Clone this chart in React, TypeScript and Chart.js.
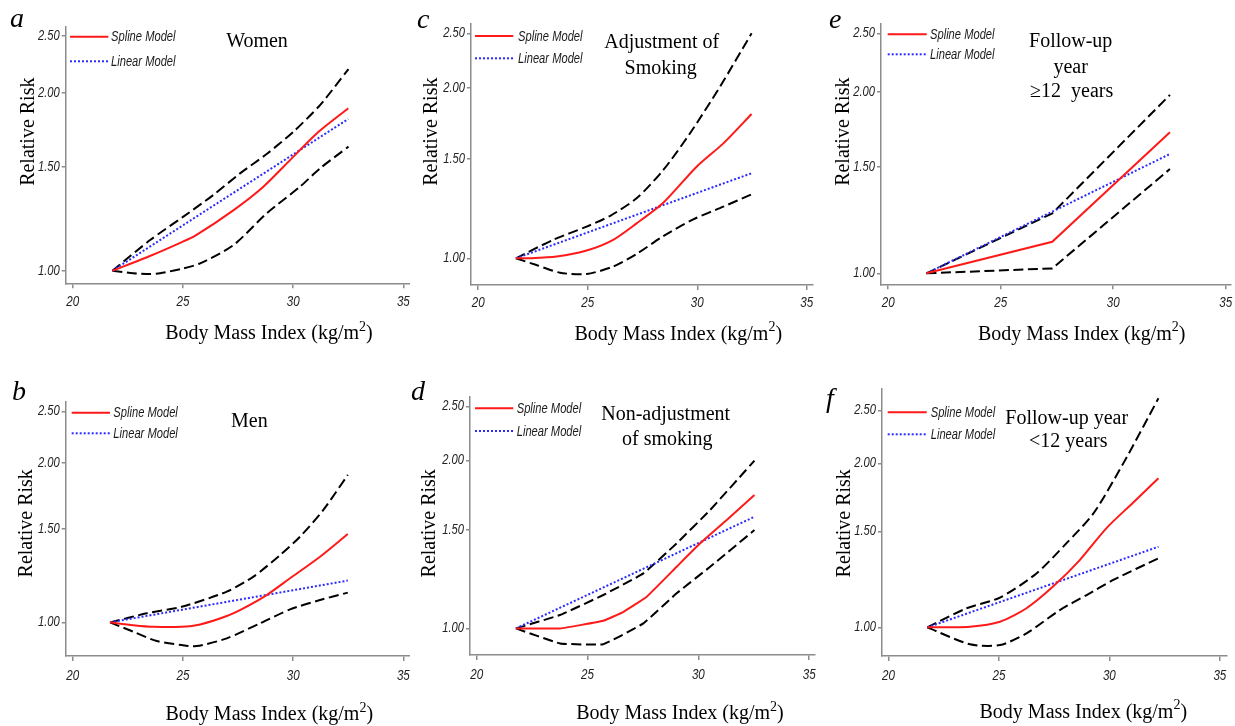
import { useEffect, useRef } from "react";
import { Chart, registerables } from "chart.js";

Chart.register(...registerables);

type Pt = [number, number];

// ---------- Tick values ----------
const xTickValues = [20, 25, 30, 35];
const yTickValues = [1.0, 1.5, 2.0, 2.5];
const seriesNames = ["Spline Model", "Linear Model", "Upper CI", "Lower CI"];
const xAxisTitle = "Body Mass Index (kg/m";
const yAxisTitle = "Relative Risk";

// ---------- Panel a: Women ----------
const aSpline: Pt[] = [[21.8, 1.0], [23.5, 1.059], [24.9, 1.116], [25.6, 1.149], [27.3, 1.267], [28.65, 1.388], [29.86, 1.54], [31.07, 1.709], [32.5, 1.885]];
const aLinear: Pt[] = [[21.8, 1.0], [32.5, 1.808]];
const aUpper: Pt[] = [[21.8, 1.0], [23.51, 1.127], [25.02, 1.235], [26.38, 1.344], [27.59, 1.462], [28.8, 1.577], [30.01, 1.72], [31.22, 1.909], [32.51, 2.197]];
const aLower: Pt[] = [[21.8, 1.0], [22.75, 0.99], [23.51, 0.987], [23.96, 0.99], [25.02, 1.009], [25.78, 1.029], [27.29, 1.105], [28.8, 1.251], [30.31, 1.388], [31.22, 1.491], [32.51, 1.623]];

// ---------- Panel b: Men ----------
const bSpline: Pt[] = [[21.69, 1.0], [22.75, 0.988], [23.66, 0.981], [24.94, 0.981], [25.78, 0.991], [26.99, 1.028], [27.74, 1.063], [28.8, 1.126], [29.86, 1.211], [31.22, 1.33], [32.48, 1.468]];
const bLinear: Pt[] = [[21.69, 1.0], [32.48, 1.199]];
const bUpper: Pt[] = [[21.69, 1.0], [23.36, 1.04], [24.94, 1.07], [26.99, 1.143], [28.2, 1.22], [29.41, 1.34], [30.31, 1.451], [31.37, 1.63], [32.48, 1.898]];
const bLower: Pt[] = [[21.69, 1.0], [22.75, 0.96], [23.81, 0.922], [24.94, 0.906], [25.62, 0.902], [26.99, 0.933], [28.5, 0.996], [29.86, 1.058], [31.22, 1.102], [32.48, 1.138]];

// ---------- Panel c: Adjustment of smoking ----------
const cSpline: Pt[] = [[21.72, 1.0], [22.35, 1.0], [23.58, 1.007], [24.95, 1.032], [26.16, 1.078], [27.23, 1.153], [28.45, 1.254], [29.97, 1.452], [31.19, 1.597], [32.48, 1.8]];
const cLinear: Pt[] = [[21.72, 1.0], [32.48, 1.414]];
const cUpper: Pt[] = [[21.72, 1.0], [23.42, 1.078], [24.95, 1.138], [26.01, 1.188], [27.23, 1.277], [28.45, 1.433], [29.67, 1.664], [31.04, 2.012], [32.48, 2.5]];
const cLower: Pt[] = [[21.72, 1.0], [22.66, 0.973], [23.73, 0.943], [24.95, 0.938], [26.16, 0.967], [27.23, 1.018], [28.45, 1.095], [29.82, 1.172], [31.19, 1.234], [32.48, 1.298]];

// ---------- Panel d: Non-adjustment of smoking ----------
const dSpline: Pt[] = [[21.77, 1.0], [23.76, 1.0], [25.71, 1.032], [26.62, 1.071], [27.67, 1.14], [29.02, 1.29], [30.08, 1.421], [31.28, 1.565], [32.53, 1.735]];
const dLinear: Pt[] = [[21.77, 1.0], [32.53, 1.586]];
const dUpper: Pt[] = [[21.77, 1.0], [23.76, 1.057], [25.71, 1.148], [27.52, 1.255], [29.02, 1.421], [30.53, 1.631], [32.53, 2.0]];
const dLower: Pt[] = [[21.77, 1.0], [23.76, 0.94], [25.71, 0.937], [27.52, 1.021], [29.02, 1.156], [30.53, 1.29], [32.53, 1.501]];

// ---------- Panel e: Follow-up >= 12 years ----------
const eSpline: Pt[] = [[21.7, 1.0], [27.29, 1.128], [32.52, 1.713]];
const eLinear: Pt[] = [[21.7, 1.0], [32.52, 1.577]];
const eUpper: Pt[] = [[21.7, 1.0], [27.29, 1.257], [32.52, 1.976]];
const eLower: Pt[] = [[21.7, 1.0], [27.29, 1.019], [32.52, 1.489]];

// ---------- Panel f: Follow-up < 12 years ----------
const fSpline: Pt[] = [[21.76, 1.0], [23.69, 1.003], [25.05, 1.024], [26.25, 1.084], [27.45, 1.188], [28.66, 1.329], [29.86, 1.52], [31.07, 1.694], [32.22, 1.878]];
const fLinear: Pt[] = [[21.76, 1.0], [32.22, 1.406]];
const fUpper: Pt[] = [[21.76, 1.0], [23.54, 1.084], [25.05, 1.134], [26.7, 1.256], [28.05, 1.426], [29.28, 1.619], [30.63, 2.0], [32.22, 2.633]];
const fLower: Pt[] = [[21.76, 1.0], [23.69, 0.931], [25.05, 0.928], [26.25, 0.975], [27.76, 1.076], [28.97, 1.146], [30.18, 1.222], [32.22, 1.339]];

// ---------- Layout (global page coordinates) ----------
type Panel = {
  letter: string;
  x0: number; y0: number; w: number; h: number;
  plot: { l: number; r: number; t: number; b: number };
  xr: [number, number]; yr: [number, number];
  spline: Pt[]; linear: Pt[]; upper: Pt[]; lower: Pt[];
  tension: number;
  titles: { text: string; x: number; y: number }[];
  letterPos: [number, number];
  yTitle: [number, number];
  xTitle: [number, number];
  xLabelGap: number;
  legend: { x1: number; x2: number; y1: number; y2: number; tx: number };
};

const panels: Panel[] = [
  {
    letter: "a", x0: 0, y0: 0, w: 410, h: 360,
    plot: { l: 65.7, r: 409.3, t: 27, b: 283.3 }, xr: [19.68, 35.27], yr: [0.952, 2.589],
    spline: aSpline, linear: aLinear, upper: aUpper, lower: aLower, tension: 0.25,
    titles: [{ text: "Women", x: 257, y: 42 }],
    letterPos: [10, 27], yTitle: [28.3, 131.7], xTitle: [269, 334], xLabelGap: 18,
    legend: { x1: 70, x2: 108.3, y1: 36.7, y2: 61.3, tx: 111 },
  },
  {
    letter: "c", x0: 410, y0: 0, w: 410, h: 360,
    plot: { l: 471, r: 812.7, t: 23.3, b: 285 }, xr: [19.67, 35.27], yr: [0.897, 2.604],
    spline: cSpline, linear: cLinear, upper: cUpper, lower: cLower, tension: 0.25,
    titles: [{ text: "Adjustment of", x: 661.7, y: 42.3 }, { text: "Smoking", x: 660.7, y: 68.3 }],
    letterPos: [417, 27.5], yTitle: [431.7, 131.7], xTitle: [678.3, 334.3], xLabelGap: 18,
    legend: { x1: 475, x2: 513.3, y1: 36, y2: 58.3, tx: 518 },
  },
  {
    letter: "e", x0: 820, y0: 0, w: 415, h: 360,
    plot: { l: 881, r: 1230.7, t: 23.3, b: 284.3 }, xr: [19.68, 35.22], yr: [0.959, 2.597],
    spline: eSpline, linear: eLinear, upper: eUpper, lower: eLower, tension: 0,
    titles: [{ text: "Follow-up", x: 1070.7, y: 41.7 }, { text: "year", x: 1070.7, y: 67.7 }, { text: "\u226512  years", x: 1071.7, y: 91.7 }],
    letterPos: [829, 27.5], yTitle: [843.3, 131.7], xTitle: [1081.7, 334.3], xLabelGap: 18,
    legend: { x1: 887.7, x2: 926.7, y1: 34.3, y2: 54.3, tx: 930 },
  },
  {
    letter: "b", x0: 0, y0: 360, w: 410, h: 366,
    plot: { l: 65.7, r: 409.3, t: 401.7, b: 656 }, xr: [19.68, 35.27], yr: [0.864, 2.609],
    spline: bSpline, linear: bLinear, upper: bUpper, lower: bLower, tension: 0.25,
    titles: [{ text: "Men", x: 249.3, y: 421.7 }],
    letterPos: [12, 400], yTitle: [26.7, 523.3], xTitle: [269.3, 715], xLabelGap: 20,
    legend: { x1: 71.7, x2: 110, y1: 412.7, y2: 433.3, tx: 113.3 },
  },
  {
    letter: "d", x0: 410, y0: 360, w: 410, h: 366,
    plot: { l: 470, r: 815, t: 396.7, b: 655 }, xr: [19.7, 35.26], yr: [0.896, 2.604],
    spline: dSpline, linear: dLinear, upper: dUpper, lower: dLower, tension: 0.1,
    titles: [{ text: "Non-adjustment", x: 665.7, y: 415 }, { text: "of smoking", x: 667.3, y: 440 }],
    letterPos: [411, 400], yTitle: [430, 523.3], xTitle: [680, 714], xLabelGap: 20,
    legend: { x1: 475, x2: 513.3, y1: 408.3, y2: 431, tx: 516.7 },
  },
  {
    letter: "f", x0: 820, y0: 360, w: 415, h: 366,
    plot: { l: 882, r: 1226.7, t: 388.3, b: 656 }, xr: [19.71, 35.31], yr: [0.886, 2.747],
    spline: fSpline, linear: fLinear, upper: fUpper, lower: fLower, tension: 0.25,
    titles: [{ text: "Follow-up year", x: 1066.7, y: 418.3 }, { text: "<12 years", x: 1068.3, y: 441.7 }],
    letterPos: [826, 407], yTitle: [845, 523.3], xTitle: [1083.3, 712.7], xLabelGap: 20,
    legend: { x1: 887.7, x2: 926.7, y1: 412.3, y2: 434.3, tx: 930.7 },
  },
];

const SERIF = '"Liberation Serif", "Times New Roman", serif';
const SANS = '"Liberation Sans", Arial, sans-serif';
const RED = "#ff1a1a";
const BLUE = "#2b2bff";
const AXIS = "#8c8c8c";

const toXY = (pts: Pt[]) => pts.map(([x, y]) => ({ x, y }));

function narrowText(ctx: CanvasRenderingContext2D, text: string, x: number, y: number, sx: number) {
  ctx.save();
  ctx.translate(x, y);
  ctx.scale(sx, 1);
  ctx.fillText(text, 0, 0);
  ctx.restore();
}

function PanelChart({ p }: { p: Panel }) {
  const ref = useRef<HTMLCanvasElement | null>(null);
  useEffect(() => {
    const canvas = ref.current;
    if (!canvas) return;
    const lx = (v: number) => v - p.x0;
    const ly = (v: number) => v - p.y0;
    const textPlugin = {
      id: "panelText",
      afterDraw(chart: any) {
        const ctx: CanvasRenderingContext2D = chart.ctx;
        ctx.save();
        // tick labels (condensed italic sans), positioned by the chart scales
        const xs = chart.scales.x;
        const ys = chart.scales.y;
        ctx.fillStyle = "#222";
        ctx.font = `italic 15.5px ${SANS}`;
        ctx.textAlign = "center";
        ctx.textBaseline = "middle";
        xTickValues.forEach((v) => narrowText(ctx, String(v), xs.getPixelForValue(v), xs.top + p.xLabelGap, 0.75));
        ctx.font = `italic 14px ${SANS}`;
        ctx.textAlign = "right";
        yTickValues.forEach((v) => narrowText(ctx, v.toFixed(2), ys.right - 6, ys.getPixelForValue(v), 0.8));

        ctx.fillStyle = "#000";
        // panel letter
        ctx.font = `italic 28px ${SERIF}`;
        ctx.textAlign = "left";
        ctx.textBaseline = "alphabetic";
        ctx.fillText(p.letter, lx(p.letterPos[0]), ly(p.letterPos[1]));
        // titles
        ctx.font = `20px ${SERIF}`;
        ctx.textAlign = "center";
        ctx.textBaseline = "middle";
        p.titles.forEach((t) => ctx.fillText(t.text, lx(t.x), ly(t.y)));
        // y axis title
        ctx.save();
        ctx.translate(lx(p.yTitle[0]), ly(p.yTitle[1]));
        ctx.rotate(-Math.PI / 2);
        ctx.fillText(yAxisTitle, 0, 0);
        ctx.restore();
        // x axis title with superscript
        ctx.font = `20px ${SERIF}`;
        const w1 = ctx.measureText(xAxisTitle).width;
        const w3 = ctx.measureText(")").width;
        ctx.font = `14px ${SERIF}`;
        const w2 = ctx.measureText("2").width;
        const total = w1 + w2 + w3;
        const sx = lx(p.xTitle[0]) - total / 2;
        const cy = ly(p.xTitle[1]);
        ctx.textAlign = "left";
        ctx.font = `20px ${SERIF}`;
        ctx.fillText(xAxisTitle, sx, cy);
        ctx.fillText(")", sx + w1 + w2, cy);
        ctx.font = `14px ${SERIF}`;
        ctx.fillText("2", sx + w1, cy - 7);
        // legend
        const L = p.legend;
        ctx.lineWidth = 2;
        ctx.strokeStyle = RED;
        ctx.setLineDash([]);
        ctx.beginPath();
        ctx.moveTo(lx(L.x1), ly(L.y1));
        ctx.lineTo(lx(L.x2), ly(L.y1));
        ctx.stroke();
        ctx.strokeStyle = BLUE;
        ctx.setLineDash([2, 2]);
        ctx.beginPath();
        ctx.moveTo(lx(L.x1), ly(L.y2));
        ctx.lineTo(lx(L.x2), ly(L.y2));
        ctx.stroke();
        ctx.setLineDash([]);
        ctx.fillStyle = "#1a1a1a";
        ctx.font = `italic 14.5px ${SANS}`;
        ctx.textAlign = "left";
        ctx.textBaseline = "middle";
        narrowText(ctx, seriesNames[0], lx(L.tx), ly(L.y1) + 0.5, 0.77);
        narrowText(ctx, seriesNames[1], lx(L.tx), ly(L.y2) + 0.5, 0.77);
        ctx.restore();
      },
    };

    const chart = new Chart(canvas, {
      type: "line",
      data: {
        datasets: [
          { label: seriesNames[0], data: toXY(p.spline), borderColor: RED, borderWidth: 2, tension: p.tension, pointRadius: 0, fill: false },
          { label: seriesNames[1], data: toXY(p.linear), borderColor: BLUE, borderWidth: 2, borderDash: [2, 2], pointRadius: 0, fill: false },
          { label: seriesNames[2], data: toXY(p.upper), borderColor: "#000", borderWidth: 2, borderDash: [10, 4.5], tension: p.tension, pointRadius: 0, fill: false },
          { label: seriesNames[3], data: toXY(p.lower), borderColor: "#000", borderWidth: 2, borderDash: [10, 4.5], tension: p.tension, pointRadius: 0, fill: false },
        ],
      },
      options: {
        animation: false,
        responsive: false,
        devicePixelRatio: 1,
        layout: {
          padding: { left: 0, top: p.plot.t - p.y0, right: p.x0 + p.w - p.plot.r, bottom: 0 },
        },
        plugins: { legend: { display: false }, tooltip: { enabled: false } },
        scales: {
          x: {
            type: "linear",
            min: p.xr[0],
            max: p.xr[1],
            afterBuildTicks: (s: any) => { s.ticks = xTickValues.map((v) => ({ value: v })); },
            afterFit: (s: any) => { s.height = p.y0 + p.h - p.plot.b; s.paddingLeft = 0; s.paddingRight = 0; },
            ticks: { display: false, autoSkip: false },
            grid: { display: true, drawOnChartArea: false, drawTicks: true, tickLength: 5, color: AXIS, lineWidth: 1.5 },
            border: { display: true, color: AXIS, width: 1.5 },
          },
          y: {
            type: "logarithmic",
            min: p.yr[0],
            max: p.yr[1],
            afterBuildTicks: (s: any) => { s.ticks = yTickValues.map((v) => ({ value: v })); },
            afterFit: (s: any) => { s.width = p.plot.l - p.x0; s.paddingTop = 0; s.paddingBottom = 0; },
            ticks: { display: false, autoSkip: false },
            grid: { display: true, drawOnChartArea: false, drawTicks: true, tickLength: 4, color: AXIS, lineWidth: 1.5 },
            border: { display: true, color: AXIS, width: 1.5 },
          },
        },
      },
      plugins: [textPlugin],
    } as any);
    return () => chart.destroy();
  }, [p]);
  return (
    <canvas
      ref={ref}
      width={p.w}
      height={p.h}
      style={{ position: "absolute", left: p.x0, top: p.y0, width: p.w, height: p.h }}
    />
  );
}

export default function App() {
  return (
    <div style={{ position: "absolute", left: 0, top: 0, width: 1235, height: 726, background: "#fff", overflow: "hidden" }}>
      {panels.map((p) => (
        <PanelChart key={p.letter} p={p} />
      ))}
    </div>
  );
}
